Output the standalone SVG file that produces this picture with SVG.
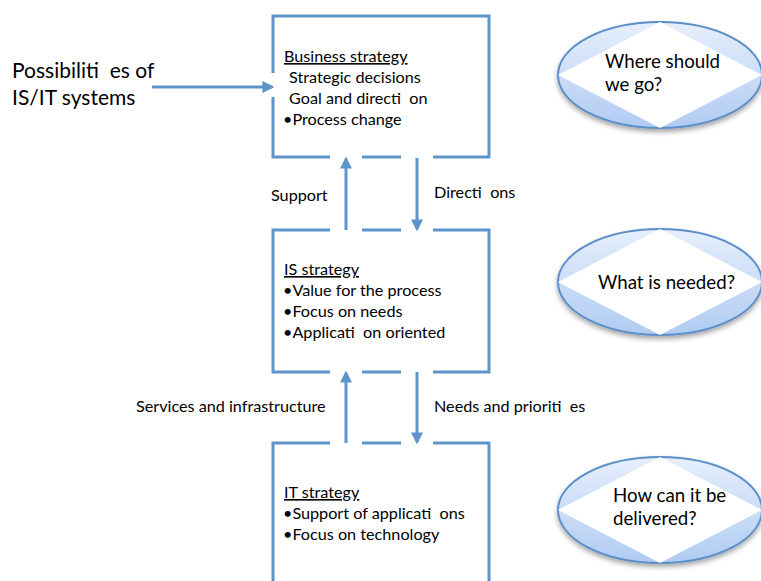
<svg xmlns="http://www.w3.org/2000/svg" width="761" height="581" viewBox="0 0 761 581">
<style>
.box{fill:none;stroke:#5f94cb;stroke-width:3}
.con{stroke:#5f94cb;stroke-width:3;fill:none}
.t{font-family:Lato,"Open Sans",sans-serif;font-size:16.2px;fill:#000;white-space:pre}
.big{font-family:Lato,"Open Sans",sans-serif;font-size:21px;fill:#000;white-space:pre}
.q{font-family:Lato,"Open Sans",sans-serif;font-size:18.7px;fill:#000;white-space:pre}
.ell{stroke:#5b8fc8;stroke-width:2;fill:url(#eg)}
.dia{fill:#fff}
</style>
<defs>
<marker id="ah" viewBox="0 0 10 10" refX="8" refY="5" markerWidth="4" markerHeight="4" orient="auto" markerUnits="strokeWidth">
<path d="M0,0 L10,5 L0,10 z" fill="#5f94cb"/>
</marker>
<linearGradient id="eg" x1="0" y1="0" x2="0" y2="1">
<stop offset="0" stop-color="#e6effc"/>
<stop offset="1" stop-color="#b0cbf2"/>
</linearGradient>
<filter id="sh" x="-20%" y="-20%" width="140%" height="150%">
<feGaussianBlur in="SourceAlpha" stdDeviation="2.5"/>
<feOffset dy="3" result="b"/>
<feFlood flood-color="#000" flood-opacity="0.35"/>
<feComposite in2="b" operator="in"/>
<feMerge><feMergeNode/><feMergeNode in="SourceGraphic"/></feMerge>
</filter>
</defs>

<g id="business">
<path class="box" d="M273,73 V16 H489 V157 H433 M401,157 H362 M330,157 H273 V97"/>
<text class="t" x="284" y="62" text-decoration="underline">Business strategy</text>
<text class="t" x="289" y="83">Strategic decisions</text>
<text class="t" x="289" y="104">Goal and directi  on</text>
<text class="t" x="283" y="125">•Process change</text>
</g>

<g id="is">
<path class="box" d="M330,230 H273 V372 H330 M362,372 H401 M433,372 H489 V230 H433 M401,230 H362"/>
<text class="t" x="284" y="275" text-decoration="underline">IS strategy</text>
<text class="t" x="283" y="296">•Value for the process</text>
<text class="t" x="283" y="317">•Focus on needs</text>
<text class="t" x="283" y="338">•Applicati  on oriented</text>
</g>

<g id="it">
<path class="box" d="M273,583 V443 H330 M362,443 H401 M433,443 H489 V583"/>
<text class="t" x="284" y="498" text-decoration="underline">IT strategy</text>
<text class="t" x="283" y="519">•Support of applicati  ons</text>
<text class="t" x="283" y="540">•Focus on technology</text>
</g>

<g id="source">
<text class="big" x="12" y="78">Possibiliti  es of</text>
<text class="big" x="12" y="105">IS/IT systems</text>
</g>

<g id="connectors">
<line class="con" x1="152" y1="87" x2="272" y2="87" marker-end="url(#ah)"/>
<line class="con" x1="346" y1="230" x2="346" y2="159" marker-end="url(#ah)"/>
<line class="con" x1="417" y1="158" x2="417" y2="229" marker-end="url(#ah)"/>
<line class="con" x1="346" y1="443" x2="346" y2="373" marker-end="url(#ah)"/>
<line class="con" x1="417" y1="372" x2="417" y2="442" marker-end="url(#ah)"/>
<text class="t" x="271" y="201">Support</text>
<text class="t" x="434" y="198">Directi  ons</text>
<text class="t" x="136" y="412">Services and infrastructure</text>
<text class="t" x="434" y="412">Needs and prioriti  es</text>
</g>

<g id="q1">
<ellipse class="ell" cx="660" cy="75" rx="102" ry="53" filter="url(#sh)"/>
<polygon class="dia" points="558,75 660,22 762,75 660,128"/>
<text class="q" x="605" y="68">Where should</text>
<text class="q" x="605" y="91">we go?</text>
</g>

<g id="q2">
<ellipse class="ell" cx="660" cy="282" rx="102" ry="53" filter="url(#sh)"/>
<polygon class="dia" points="558,282 660,229 762,282 660,335"/>
<text class="q" x="598" y="289">What is needed?</text>
</g>

<g id="q3">
<ellipse class="ell" cx="660" cy="510" rx="102" ry="53" filter="url(#sh)"/>
<polygon class="dia" points="558,510 660,457 762,510 660,563"/>
<text class="q" x="613" y="502">How can it be</text>
<text class="q" x="613" y="525">delivered?</text>
</g>
</svg>
